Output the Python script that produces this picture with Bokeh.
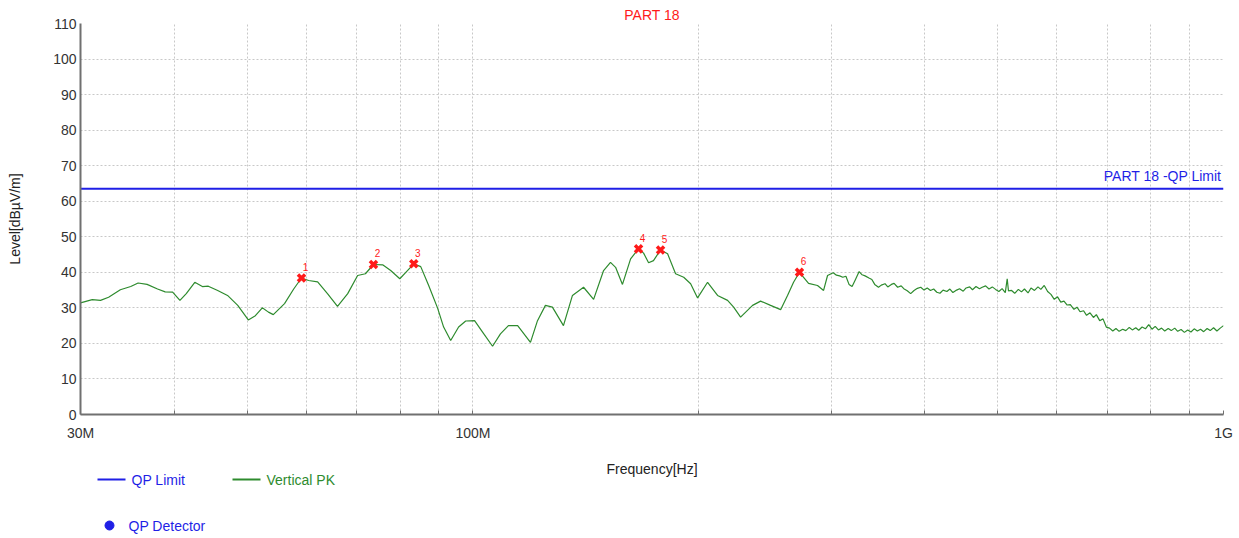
from bokeh.plotting import figure
from bokeh.layouts import column
from bokeh.models import FixedTicker, CustomJSTickFormatter, Range1d
from bokeh.core.properties import value
from bokeh.embed import file_html
from bokeh.resources import INLINE

# ---------------- data ----------------
title_text = "PART 18"
x_label = "Frequency[Hz]"
y_label = "Level[dB\u00b5V/m]"

# Vertical PK trace: frequency in MHz, level in dBuV/m
pk_freq_mhz = [
    30.0, 31.1, 31.9, 32.7, 33.9, 35.0, 35.8, 36.8, 38.0, 38.9, 39.8, 40.7, 41.5, 42.6,
    43.6, 44.4, 45.7, 47.1, 48.6, 50.2, 51.3, 52.4, 53.4, 54.2, 56.1, 57.7, 59.1, 60.4,
    62.1, 64.0, 66.0, 68.1, 70.2, 71.9, 73.7, 75.8, 77.7, 79.9, 81.8, 83.4, 85.2, 87.3,
    89.7, 91.4, 93.4, 95.7, 97.8, 100.5, 103.0, 106.2, 108.8, 111.5, 114.7, 119.3, 121.9,
    124.9, 127.6, 132.0, 135.7, 140.4, 144.8, 149.3, 152.5, 154.9, 158.2, 162.2, 166.2,
    168.8, 171.4, 174.0, 177.8, 181.7, 186.2, 190.9, 195.0, 199.2, 205.4, 211.8, 218.4,
    222.5, 227.3, 235.8, 241.7, 249.2, 257.0, 262.5, 267.4, 272.3, 280.0, 287.8, 293.2,
    296.8,
    302, 305, 308, 311, 314, 317, 320, 323, 327, 330, 333, 337, 340, 343, 347, 350, 354,
    357, 361, 364, 368, 372, 375, 379, 383, 387, 391, 395, 399, 403, 407, 411, 415, 419,
    423, 428, 432, 436, 441, 445, 450, 454, 459, 463, 468, 473, 477, 482, 487, 492, 497,
    502, 507, 512, 515, 517, 522, 527, 533, 538, 543, 549, 554, 560, 566, 571, 577, 583,
    589, 595, 601, 607, 613, 619, 625, 632, 638, 644, 651, 657, 664, 671, 677, 684, 691,
    698, 705, 712, 719, 726, 734, 741, 749, 756, 764, 771, 779, 787, 795, 803, 811, 819,
    827, 835, 844, 852, 861, 869, 878, 887, 896, 905, 914, 923, 932, 941, 951, 960, 970,
    980, 990, 1000,
]
pk_level = [
    31.4, 32.3, 32.1, 33.0, 35.1, 36.0, 37.0, 36.6, 35.3, 34.5, 34.4, 32.1, 34.0, 37.2,
    36.0, 36.1, 34.9, 33.5, 30.7, 26.6, 27.8, 30.0, 28.8, 28.1, 31.2, 35.3, 38.4, 37.7,
    37.3, 34.0, 30.4, 34.0, 39.1, 39.6, 42.2, 42.1, 40.5, 38.2, 40.5, 42.4, 41.6, 36.3,
    30.0, 24.6, 20.8, 24.6, 26.3, 26.4, 23.2, 19.2, 22.7, 25.0, 25.0, 20.3, 26.4,
    30.7, 30.2, 25.0, 33.5, 35.8, 32.4, 40.5, 42.8, 41.4, 36.6, 43.8, 46.6,
    45.4, 42.7, 43.3, 46.3, 45.2, 39.6, 38.6, 36.8, 32.8, 37.2, 33.5, 32.1,
    30.2, 27.4, 30.7, 31.9, 30.7, 29.5, 33.5, 37.2, 40.0, 36.9, 36.3, 34.9,
    39.1,
    39.9, 39.2, 39.0, 38.6, 38.9, 36.6, 36.0, 37.8, 40.2, 39.3, 39.0, 38.4, 38.0, 36.6,
    35.8, 36.4, 36.8, 35.9, 36.6, 36.9, 35.8, 36.2, 35.4, 34.8, 34.0, 34.9, 35.5, 35.8,
    35.0, 35.6, 34.9, 35.3, 34.4, 34.1, 35.0, 34.6, 35.3, 34.3, 35.0, 35.4, 34.7, 35.6,
    35.9, 35.1, 36.0, 35.4, 35.8, 36.2, 35.3, 35.9, 35.2, 34.6, 35.4, 34.3, 38.2, 34.8,
    34.9, 34.1, 35.2, 34.5, 35.3, 34.2, 35.6, 34.9, 35.9, 35.2, 36.3, 34.6, 33.8, 32.4,
    33.1, 31.6, 31.9, 30.8, 30.9, 29.6, 30.2, 28.9, 29.2, 27.9, 28.6, 27.3, 28.1, 26.4,
    26.9, 24.6, 24.3, 23.5, 24.2, 23.4, 24.0, 23.6, 24.5, 23.8, 24.4, 23.7, 24.6, 24.1,
    25.3, 24.0, 24.8, 23.8, 24.3, 23.5, 24.2, 23.6, 24.3, 23.4, 23.9, 23.1, 23.8, 23.2,
    24.1, 23.5, 24.0, 23.3, 24.2, 23.6, 24.4, 23.5, 24.3, 25.0,
]

# QP limit
limit_freq_mhz = [30.0, 1000.0]
limit_level = [63.5, 63.5]
limit_text = "PART 18 -QP Limit"

# Peak markers
marker_freq_mhz = [59.1, 73.7, 83.4, 166.2, 177.8, 272.3]
marker_level = [38.4, 42.2, 42.4, 46.6, 46.3, 40.0]
marker_labels = ["1", "2", "3", "4", "5", "6"]

# Axis ticks
x_tick_mhz = [30, 40, 50, 60, 70, 80, 90, 100, 200, 300, 400, 500, 600, 700, 800, 900, 1000]
x_tick_labels = ["30M", "", "", "", "", "", "", "100M", "", "", "", "", "", "", "", "", "1G"]
y_ticks = [0, 10, 20, 30, 40, 50, 60, 70, 80, 90, 100, 110]

legend_labels = ["QP Limit", "Vertical PK", "QP Detector"]

# ---------------- styling ----------------
FONT = "Liberation Sans"
BLUE = "#1f1fe6"
GREEN = "#2e8b2e"
RED = "#ff1a1a"
GRID = "#c8c8c8"
AXIS = "#707070"
W, H = 1239, 538
TOP_H = 444
LEFT, RIGHT = 80, 16

MHZ = 1e6
pk_x = [f * MHZ for f in pk_freq_mhz]
lim_x = [f * MHZ for f in limit_freq_mhz]
mk_x = [f * MHZ for f in marker_freq_mhz]
xt = [f * MHZ for f in x_tick_mhz]

p = figure(width=W, height=TOP_H, x_axis_type="log",
           x_range=Range1d(xt[0], xt[-1]), y_range=Range1d(y_ticks[0], y_ticks[-1]),
           output_backend="svg", toolbar_location=None,
           min_border_left=LEFT, min_border_right=RIGHT, min_border_top=23, min_border_bottom=30)
p.outline_line_color = None
p.background_fill_color = "white"

p.title.text = title_text
p.title.align = "center"
p.title.text_color = RED
p.title.text_font = FONT
p.title.text_font_size = "14px"
p.title.text_font_style = "normal"
p.title.standoff = 2

# axes
p.xaxis.ticker = FixedTicker(ticks=xt, minor_ticks=[])
p.xaxis.formatter = CustomJSTickFormatter(
    args=dict(vals=xt, labs=x_tick_labels),
    code="""
    for (let i = 0; i < vals.length; i++) {
        if (Math.abs(tick - vals[i]) < vals[i]*1e-6) { return labs[i]; }
    }
    return '';
    """)
p.yaxis.ticker = FixedTicker(ticks=y_ticks, minor_ticks=[])

for ax in (p.xaxis, p.yaxis):
    ax.axis_line_color = AXIS
    ax.axis_line_width = 2
    ax.major_tick_line_color = AXIS
    ax.major_label_text_font = FONT
    ax.major_label_text_font_size = "14px"
    ax.major_label_text_color = "#333333"
    ax.axis_label_text_font = FONT
    ax.axis_label_text_font_size = "14px"
    ax.axis_label_text_font_style = "normal"
    ax.axis_label_text_color = "#222222"
    ax.minor_tick_line_color = None

p.xaxis.major_tick_in = 4
p.xaxis.major_tick_out = 0
p.xaxis.major_label_standoff = 10
p.yaxis.major_tick_in = 0
p.yaxis.major_tick_out = 0
p.yaxis.major_label_standoff = 4
p.yaxis.axis_label = y_label
p.yaxis.axis_label_standoff = 27

p.xgrid.grid_line_color = GRID
p.xgrid.grid_line_dash = "2 2"
p.ygrid.grid_line_color = GRID
p.ygrid.grid_line_dash = "2 2"

# data
p.line(lim_x, limit_level, line_color=BLUE, line_width=2)
p.text(x=[lim_x[-1]], y=[limit_level[-1]], text=[limit_text], text_align="right",
       text_baseline="bottom", x_offset=-2, y_offset=-5, text_color=BLUE,
       text_font=value(FONT), text_font_size="14px")

p.line(pk_x, pk_level, line_color=GREEN, line_width=1.2)

p.scatter(mk_x, marker_level, marker="x", size=10, line_width=3.5, line_color=RED)
p.text(x=mk_x, y=marker_level, text=marker_labels, text_align="center",
       text_baseline="middle", x_offset=4, y_offset=-11, text_color=RED,
       text_font=value(FONT), text_font_size="10px")

# ---------------- bottom strip: x-axis title and key (page-pixel space) ----------------
leg = figure(width=W, height=H - TOP_H, x_range=Range1d(LEFT, W - RIGHT),
             y_range=Range1d(H, TOP_H),
             output_backend="svg", toolbar_location=None,
             min_border_left=LEFT, min_border_right=RIGHT, min_border_top=0, min_border_bottom=0)
leg.axis.visible = False
leg.grid.visible = False
leg.outline_line_color = None

leg.text(x=[(LEFT + W - RIGHT) / 2], y=[468], text=[x_label], text_align="center",
         text_baseline="middle", text_color="#222222", text_font=value(FONT),
         text_font_size="14px")

row1, row2 = 479, 525
leg.line([97, 125], [row1, row1], line_color=BLUE, line_width=2)
leg.text(x=[131], y=[row1], text=[legend_labels[0]], text_baseline="middle",
         text_color=BLUE, text_font=value(FONT), text_font_size="14px")
leg.line([232, 260], [row1, row1], line_color=GREEN, line_width=2)
leg.text(x=[266], y=[row1], text=[legend_labels[1]], text_baseline="middle",
         text_color=GREEN, text_font=value(FONT), text_font_size="14px")
leg.scatter([109], [row2], marker="circle", size=9, fill_color=BLUE, line_color=BLUE)
leg.text(x=[128], y=[row2], text=[legend_labels[2]], text_baseline="middle",
         text_color=BLUE, text_font=value(FONT), text_font_size="14px")

layout = column(p, leg, spacing=0)
open("out.html", "w").write(file_html(layout, INLINE))
